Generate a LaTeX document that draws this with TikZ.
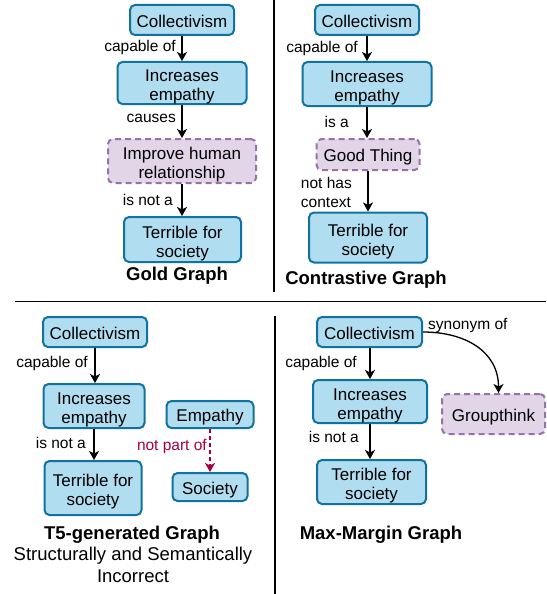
\documentclass[tikz,border=0pt]{standalone}
\usepackage{fontspec}
\setmainfont{Liberation Sans}
\usetikzlibrary{arrows.meta}
\definecolor{bfill}{HTML}{B1DDF0}
\definecolor{bline}{HTML}{10739E}
\definecolor{pfill}{HTML}{E1D5E7}
\definecolor{pline}{HTML}{9673A6}
\definecolor{mag}{HTML}{A50040}
% node text, lowered a little inside its box (box size kept)
\newcommand\nt[2][3.4pt]{\raisebox{-#1}[\height][\depth]{\begin{tabular}{@{}c@{}}#2\end{tabular}}}
\newcommand\ntt[1]{\nt[4.5pt]{#1}}
\tikzset{
  box/.style={draw=bline, fill=bfill, line width=2pt, rounded corners=5pt, inner sep=0pt, font=\fontsize{17}{19}\selectfont},
  pbox/.style={draw=pline, fill=pfill, line width=2pt, rounded corners=5pt, inner sep=0pt, dash pattern=on 6pt off 4pt, font=\fontsize{17}{19}\selectfont},
  rel/.style={line width=1.3pt, -{Stealth[length=9pt,width=10pt,inset=2.5pt]}},
  lbl/.style={inner sep=0pt, align=left, font=\fontsize{15.5}{19}\selectfont},
  ttl/.style={inner sep=0pt, align=center, font=\fontsize{18.5}{21}\selectfont\bfseries},
  sub/.style={inner sep=0pt, align=center, font=\fontsize{18.5}{21}\selectfont},
  divider/.style={line width=1.3pt}
}
\begin{document}
\begin{tikzpicture}[x=1pt,y=-1pt]
\useasboundingbox (0,0) rectangle (546,594);
% dividers
\draw[divider] (274,0) -- (274,292);
\draw[divider] (15,301.5) -- (546,301.5);
\draw[divider] (275,316) -- (275,594);

% ---------- Gold graph ----------
\node[box, minimum width=104pt, minimum height=30pt] (g1) at (182,20) {\nt{Collectivism}};
\node[box, minimum width=129pt, minimum height=42pt] (g2) at (182,83) {\ntt{Increases\\empathy}};
\node[pbox, minimum width=148pt, minimum height=44pt] (g3) at (182,161) {\ntt{Improve human\\relationship}};
\node[box, minimum width=117pt, minimum height=45pt] (g4) at (182.5,239.5) {\ntt{Terrible for\\society}};
\node[ttl] (gt) at (177,276) {Gold Graph};
\draw[rel] (g1.south) -- (g1.south |- g2.north);
\draw[rel] (g2.south) -- (g2.south |- g3.north);
\draw[rel] (g3.south) -- (g3.south |- g4.north);
\node[lbl, anchor=east] (gl1) at (176,47) {capable of};
\node[lbl, anchor=east] (gl2) at (176,118) {causes};
\node[lbl, anchor=east] (gl3) at (173,200) {is not a};

% ---------- Contrastive graph ----------
\node[box, minimum width=104pt, minimum height=30pt] (c1) at (367,20) {\nt{Collectivism}};
\node[box, minimum width=129pt, minimum height=44pt] (c2) at (367,84) {\ntt{Increases\\empathy}};
\node[pbox, minimum width=103pt, minimum height=31pt] (c3) at (368,154.5) {\nt{Good Thing}};
\node[box, minimum width=118pt, minimum height=50pt] (c4) at (368,237.5) {\ntt{Terrible for\\society}};
\node[ttl] (ct) at (366,280) {Contrastive Graph};
\draw[rel] (c1.south) -- (c1.south |- c2.north);
\draw[rel] (c2.south) -- (c2.south |- c3.north);
\draw[rel] (c3.south) -- (c3.south |- c4.north);
\node[lbl, anchor=east] (cl1) at (358,48) {capable of};
\node[lbl, anchor=east] (cl2) at (349,122) {is a};
\node[lbl, anchor=east] (cl3) at (352,192) {not has\\context};

% ---------- T5-generated graph ----------
\node[box, minimum width=104pt, minimum height=30pt] (t1) at (95,332) {\nt{Collectivism}};
\node[box, minimum width=101pt, minimum height=44pt] (t2) at (94,406) {\ntt{Increases\\empathy}};
\node[box, minimum width=97pt, minimum height=54pt] (t3) at (93,488) {\ntt{Terrible for\\society}};
\node[box, minimum width=87pt, minimum height=27pt] (t4) at (210,414.5) {\nt{Empathy}};
\node[box, minimum width=75pt, minimum height=28pt] (t5) at (210,487) {\nt{Society}};
\draw[rel] (t1.south) -- (t1.south |- t2.north);
\draw[rel] (t2.south) -- (t2.south |- t3.north);
\draw[rel, mag, dash pattern=on 4pt off 3pt] (t4.south) -- (t4.south |- t5.north);
\node[lbl, anchor=east] (tl1) at (88,363) {capable of};
\node[lbl, anchor=east] (tl2) at (86,443) {is not a};
\node[lbl, anchor=east, text=mag] (tl3) at (207,446) {not part of};
\node[ttl] (tt) at (132,535) {T5-generated Graph};
\node[sub] (ts1) at (133,555.5) {Structurally and Semantically};
\node[sub] (ts2) at (133,576.5) {Incorrect};

% ---------- Max-margin graph ----------
\node[box, minimum width=105pt, minimum height=30pt] (m1) at (369.5,332) {\nt{Collectivism}};
\node[box, minimum width=114pt, minimum height=43pt] (m2) at (370,401.5) {\ntt{Increases\\empathy}};
\node[box, minimum width=109pt, minimum height=44pt] (m3) at (371.5,482) {\ntt{Terrible for\\society}};
\node[pbox, minimum width=103pt, minimum height=40pt] (m4) at (493.5,414) {\nt{Groupthink}};
\draw[rel] (m1.south -| m2.north) -- (m2.north);
\draw[rel] (m2.south) -- (m2.south |- m3.north);
\draw[rel] (m1.east) to[out=0, in=90, looseness=1.1] ([xshift=5pt]m4.north);
\node[lbl, anchor=west] (ml0) at (428,325) {synonym of};
\node[lbl, anchor=east] (ml1) at (357,363) {capable of};
\node[lbl, anchor=east] (ml2) at (359,437) {is not a};
\node[ttl] (mt) at (381,535) {Max-Margin Graph};
\end{tikzpicture}
\end{document}
